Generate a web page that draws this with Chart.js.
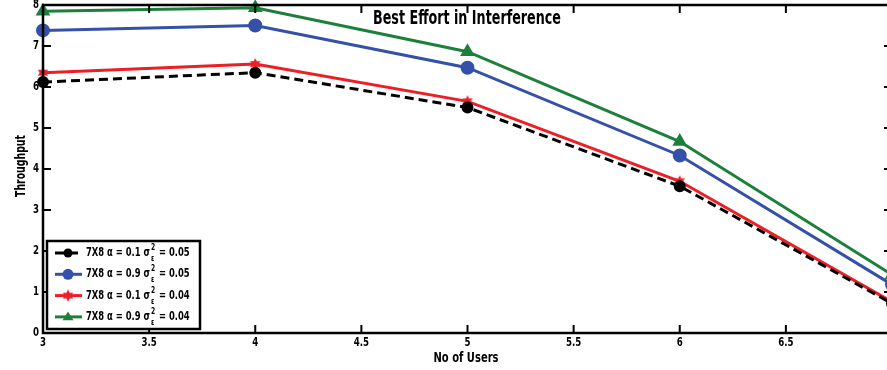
<!DOCTYPE html>
<html>
<head>
<meta charset="utf-8">
<script src="https://cdn.jsdelivr.net/npm/chart.js@4.4.1/dist/chart.umd.min.js"></script>
<style>
html,body{margin:0;padding:0;background:#fff;overflow:hidden;}
#box{width:896px;height:370px;position:relative;}
</style>
</head>
<body>
<div id="box"><canvas id="grafico" width="896" height="370"></canvas></div>
<script>
const usuarios = [3, 4, 5, 6, 7];
const serieA = [6.12, 6.35, 5.50, 3.58, 0.72];
const serieB = [7.38, 7.50, 6.47, 4.33, 1.18];
const serieC = [6.35, 6.56, 5.65, 3.70, 0.76];
const serieD = [7.85, 7.93, 6.86, 4.67, 1.42];
const legendas = [
    {alfa: "0.1", sig: "0.05"},
    {alfa: "0.9", sig: "0.05"},
    {alfa: "0.1", sig: "0.04"},
    {alfa: "0.9", sig: "0.04"}
];
const xTicks = [3, 3.5, 4, 4.5, 5, 5.5, 6, 6.5, 7];
const yTicks = [0, 1, 2, 3, 4, 5, 6, 7, 8];
const titulo = "Best Effort in Interference";
const tituloX = "No of Users";
const tituloY = "Throughput";

const fonte = "'DejaVu Sans', sans-serif";
const azul = "rgb(52,80,168)";
const vermelho = "rgb(236,30,38)";
const verde = "rgb(28,128,58)";

// hexagram marker for the red series
function estrela(cor, r){
    const c = document.createElement("canvas");
    c.width = c.height = r*2+2;
    const g = c.getContext("2d");
    g.fillStyle = cor;
    g.beginPath();
    for(let i=0;i<12;i++){
        const a = -Math.PI/2 + i*Math.PI/6;
        const rr = i%2===0 ? r : r*0.55;
        const px = r+1 + Math.cos(a)*rr, py = r+1 + Math.sin(a)*rr;
        i===0 ? g.moveTo(px,py) : g.lineTo(px,py);
    }
    g.closePath();
    g.fill();
    return c;
}
const marcaVermelha = estrela(vermelho, 6);

function pontos(arr){
    return arr.map((v,i)=>({x:usuarios[i], y:v}));
}

// narrow bold text: squeeze horizontally; returns drawn width
function estreito(ctx, txt, x, y, tam, esc, alinha){
    ctx.save();
    ctx.font = "bold " + tam + "px " + fonte;
    const w = ctx.measureText(txt).width * esc;
    let x0 = x;
    if(alinha === "center") x0 = x - w/2;
    else if(alinha === "right") x0 = x - w;
    ctx.translate(x0, y);
    ctx.scale(esc, 1);
    ctx.textAlign = "left";
    ctx.textBaseline = "middle";
    ctx.fillText(txt, 0, 0);
    ctx.restore();
    return w;
}

function escalaPara(ctx, txt, tam, largura){
    ctx.font = "bold " + tam + "px " + fonte;
    return largura / ctx.measureText(txt).width;
}

// box, inward ticks, labels, title and legend
const moldura = {
    id: "moldura",
    afterDatasetsDraw(chart){
        const ctx = chart.ctx;
        const a = chart.chartArea;
        const sx = chart.scales.x, sy = chart.scales.y;
        ctx.save();
        ctx.strokeStyle = "#000";
        ctx.lineWidth = 2.5;
        ctx.strokeRect(a.left, a.top, a.right-a.left, a.bottom-a.top);
        ctx.lineWidth = 2;
        ctx.beginPath();
        xTicks.forEach(t=>{
            const px = sx.getPixelForValue(t);
            ctx.moveTo(px, a.bottom); ctx.lineTo(px, a.bottom-8);
            ctx.moveTo(px, a.top); ctx.lineTo(px, a.top+8);
        });
        yTicks.forEach(t=>{
            const py = sy.getPixelForValue(t);
            ctx.moveTo(a.left, py); ctx.lineTo(a.left+8, py);
            ctx.moveTo(a.right, py); ctx.lineTo(a.right-8, py);
        });
        ctx.stroke();

        ctx.fillStyle = "#000";
        xTicks.forEach(t=>{
            estreito(ctx, String(t), sx.getPixelForValue(t), a.bottom+10, 12, 0.72, "center");
        });
        yTicks.forEach(t=>{
            estreito(ctx, String(t), a.left-4, sy.getPixelForValue(t), 12, 0.72, "right");
        });

        // axis titles
        estreito(ctx, tituloX, 466, 358, 14, escalaPara(ctx, tituloX, 14, 65), "center");
        ctx.save();
        ctx.translate(21, (a.top+a.bottom)/2 - 3);
        ctx.rotate(-Math.PI/2);
        estreito(ctx, tituloY, 0, 0, 14, escalaPara(ctx, tituloY, 14, 62), "center");
        ctx.restore();

        // title
        estreito(ctx, titulo, 467, 19, 19, escalaPara(ctx, titulo, 19, 188), "center");

        // legend
        const lx = 47, ly = 241, lw = 153, lh = 88;
        ctx.fillStyle = "#fff";
        ctx.fillRect(lx, ly, lw, lh);
        ctx.lineWidth = 2.5;
        ctx.strokeRect(lx, ly, lw, lh);
        const ds = chart.data.datasets;
        ds.forEach((d,i)=>{
            const y = 253 + i*21.3;
            ctx.strokeStyle = d.borderColor;
            ctx.lineWidth = 3;
            ctx.setLineDash(d.borderDash || []);
            ctx.beginPath();
            ctx.moveTo(55, y); ctx.lineTo(82, y);
            ctx.stroke();
            ctx.setLineDash([]);
            const ps = d.pointStyle;
            ctx.fillStyle = d.borderColor;
            if(ps === "circle"){
                ctx.beginPath(); ctx.arc(68, y, d.pointRadius, 0, Math.PI*2); ctx.fill();
            } else if(ps === "triangle"){
                const r = d.pointRadius;
                ctx.beginPath();
                ctx.moveTo(68, y-r); ctx.lineTo(68+r, y+r*0.6); ctx.lineTo(68-r, y+r*0.6);
                ctx.closePath(); ctx.fill();
            } else {
                ctx.drawImage(ps, 68-ps.width/2, y-ps.height/2);
            }
            ctx.fillStyle = "#000";
            let x = 86;
            x += estreito(ctx, "7X8 \u03b1 = " + legendas[i].alfa + " \u03c3", x, y, 12, 0.7, "left") + 1;
            estreito(ctx, "2", x, y-5, 8, 0.75, "left");
            estreito(ctx, "\u03b5", x, y+6, 8, 0.75, "left");
            x += 5;
            estreito(ctx, " = " + legendas[i].sig, x, y, 12, 0.7, "left");
        });
        ctx.restore();
    }
};

new Chart(document.getElementById("grafico"), {
    type: "line",
    data: {
        datasets: [
            {data: pontos(serieA), borderColor: "#000", backgroundColor: "#000", borderDash: [9,5],
             borderWidth: 3, pointStyle: "circle", pointRadius: 4.5, clip: false},
            {data: pontos(serieB), borderColor: azul, backgroundColor: azul,
             borderWidth: 3, pointStyle: "circle", pointRadius: 5.5, clip: false},
            {data: pontos(serieC), borderColor: vermelho, backgroundColor: vermelho,
             borderWidth: 3, pointStyle: marcaVermelha, pointRadius: 6, clip: false},
            {data: pontos(serieD), borderColor: verde, backgroundColor: verde,
             borderWidth: 3, pointStyle: "triangle", pointRadius: 5.5, clip: false}
        ]
    },
    options: {
        responsive: false,
        animation: false,
        events: [],
        layout: {autoPadding: false, padding: {top: 5, right: 4, left: 0, bottom: 0}},
        plugins: {legend: {display: false}, tooltip: {enabled: false}},
        scales: {
            x: {
                type: "linear", min: 3, max: 7,
                afterBuildTicks(s){ s.ticks = xTicks.map(v=>({value:v})); },
                afterFit(s){ s.height = 37; s.paddingLeft = 0; s.paddingRight = 0; },
                grid: {display: false},
                border: {display: false},
                ticks: {display: false}
            },
            y: {
                min: 0, max: 8,
                afterBuildTicks(s){ s.ticks = yTicks.map(v=>({value:v})); },
                afterFit(s){ s.width = 43; s.paddingTop = 0; s.paddingBottom = 0; },
                grid: {display: false},
                border: {display: false},
                ticks: {display: false}
            }
        }
    },
    plugins: [moldura]
});
</script>
</body>
</html>
